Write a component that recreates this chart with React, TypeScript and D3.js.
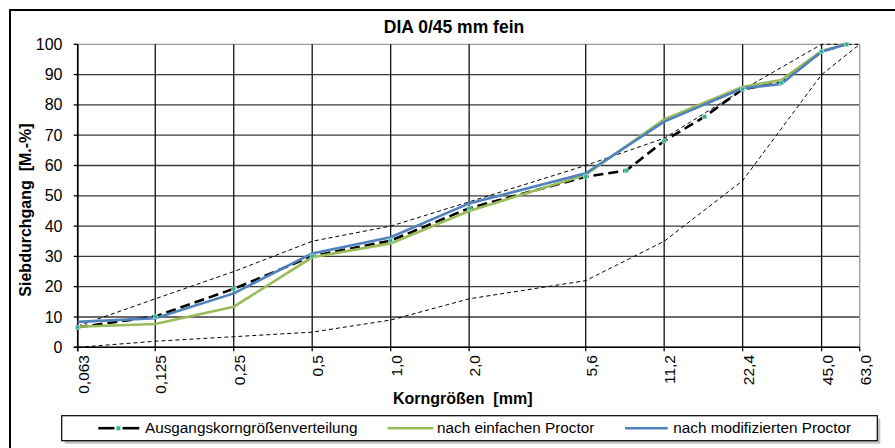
import React from "react";
import * as d3 from "d3";

// Sieve sizes shown on the axis [mm] and their labels
const sieveTicks = [0.063, 0.125, 0.25, 0.5, 1, 2, 5.6, 11.2, 22.4, 45, 63];
const sieveLabels = ["0,063", "0,125", "0,25", "0,5", "1,0", "2,0", "5,6", "11,2", "22,4", "45,0", "63,0"];
const yTicks = [0, 10, 20, 30, 40, 50, 60, 70, 80, 90, 100];

// Grading envelope (lower and upper limit) at the axis sieves
const upperLimit = [7, 16, 25, 35, 40, 48, 60, 69, 85, 100, 100];
const lowerLimit = [0, 2, 3.5, 5, 9, 16, 22, 35, 55, 90, 100];

// Initial grading
const initialSieves = [0.063, 0.125, 0.25, 0.5, 1, 2, 5.6, 8, 11.2, 16, 22.4, 31.5, 45, 56];
const initialPassing = [6.6, 10.2, 19.3, 30.1, 35.2, 45.9, 56.3, 58.3, 68.1, 76.1, 85.2, 87.3, 97.6, 100];

// Grading after standard / modified Proctor compaction
const proctorSieves = [0.063, 0.125, 0.25, 0.5, 1, 2, 5.6, 11.2, 22.4, 31.5, 45, 56];
const standardProctor = [6.8, 7.7, 13.4, 29.7, 34.3, 45.0, 56.9, 75.2, 86.0, 88.2, 97.8, 100];
const modifiedProctor = [8.4, 9.6, 17.8, 31.0, 36.3, 47.5, 57.4, 74.5, 85.5, 86.9, 97.6, 100];

const W = 895;
const H = 448;
const FONT = "Liberation Sans, Arial, sans-serif";

export default function App() {
  const x = d3.scaleLog().domain([0.063, 63]).range([77.7, 859.7]);
  const y = d3.scaleLinear().domain([0, 100]).range([347.3, 44.3]);

  const line = (xs: number[], ys: number[]) =>
    d3
      .line<number>()
      .x((_, i) => x(xs[i]))
      .y((d) => y(d))(ys) as string;

  const left = x.range()[0];
  const right = x.range()[1];
  const top = y(100);
  const bottom = y(0);

  const markerColor = "#2fae8f";

  return (
    <svg
      width={W}
      height={H}
      style={{ position: "absolute", left: 0, top: 0, background: "#fff" }}
      fontFamily={FONT}
    >
      <rect x={0} y={0} width={W} height={H} fill="#fff" />
      {/* outer chart frame */}
      <rect x={10} y={10} width={900} height={460} fill="none" stroke="#000" strokeWidth={2} />

      <text x={454} y={33} textAnchor="middle" fontSize={17.5} fontWeight="bold">
        DIA 0/45 mm fein
      </text>

      {/* horizontal gridlines */}
      {yTicks.map((t) => (
        <line
          key={"h" + t}
          x1={left}
          x2={right}
          y1={y(t)}
          y2={y(t)}
          stroke={t === 100 ? "#999" : "#3a3a3a"}
          strokeWidth={1.3}
        />
      ))}
      {/* vertical gridlines */}
      {sieveTicks.map((t, i) => (
        <line
          key={"v" + t}
          x1={x(t)}
          x2={x(t)}
          y1={top}
          y2={bottom}
          stroke={i === sieveTicks.length - 1 ? "#999" : "#111"}
          strokeWidth={1.3}
        />
      ))}
      {/* axes */}
      <line x1={left} x2={left} y1={top} y2={bottom + 4} stroke="#000" strokeWidth={1.6} />
      <line x1={left - 4} x2={right} y1={bottom} y2={bottom} stroke="#000" strokeWidth={1.6} />
      {yTicks.map((t) => (
        <line key={"yt" + t} x1={left - 4} x2={left} y1={y(t)} y2={y(t)} stroke="#000" strokeWidth={1.3} />
      ))}
      {sieveTicks.map((t) => (
        <line key={"xt" + t} x1={x(t)} x2={x(t)} y1={bottom} y2={bottom + 4} stroke="#000" strokeWidth={1.3} />
      ))}

      {/* y tick labels */}
      {yTicks.map((t) => (
        <text key={"yl" + t} x={62.5} y={y(t) + 5.5} textAnchor="end" fontSize={16}>
          {t}
        </text>
      ))}
      {/* x tick labels */}
      {sieveTicks.map((t, i) => (
        <text
          key={"xl" + t}
          transform={`translate(${x(t) + 11},${355}) rotate(-90)`}
          textAnchor="end"
          fontSize={15.5}
        >
          {sieveLabels[i]}
        </text>
      ))}

      {/* axis titles */}
      <text transform="translate(31,210) rotate(-90)" textAnchor="middle" fontSize={16} fontWeight="bold">
        {"Siebdurchgang\u00a0 [M.-%]"}
      </text>
      <text x={462.7} y={404.3} textAnchor="middle" fontSize={16} fontWeight="bold">
        {"Korngrößen\u00a0 [mm]"}
      </text>

      {/* grading envelope */}
      <path d={line(sieveTicks, upperLimit)} fill="none" stroke="#000" strokeWidth={1} strokeDasharray="4,3" />
      <path d={line(sieveTicks, lowerLimit)} fill="none" stroke="#000" strokeWidth={1} strokeDasharray="4,3" />

      {/* measured gradings */}
      <path
        d={line(initialSieves, initialPassing)}
        fill="none"
        stroke="#000"
        strokeWidth={2.6}
        strokeDasharray="10,5"
      />
      <path d={line(proctorSieves, standardProctor)} fill="none" stroke="#9bbb59" strokeWidth={2.6} />
      <path d={line(proctorSieves, modifiedProctor)} fill="none" stroke="#4f81bd" strokeWidth={2.6} />
      {initialSieves.map((s, i) => (
        <rect
          key={"m" + s}
          x={x(s) - 2}
          y={y(initialPassing[i]) - 2}
          width={4}
          height={4}
          fill={markerColor}
          stroke="#a6e0d4"
          strokeWidth={0.8}
        />
      ))}

      {/* legend */}
      <rect x={64.7} y={418.7} width={815.6} height={25} fill="#9a9a9a" opacity={0.6} />
      <rect x={61.7} y={415.7} width={815.6} height={25} fill="#fff" stroke="#000" strokeWidth={1.2} />
      <line x1={98.3} x2={114.5} y1={428.2} y2={428.2} stroke="#000" strokeWidth={2.6} />
      <line x1={122.5} x2={139.3} y1={428.2} y2={428.2} stroke="#000" strokeWidth={2.6} />
      <rect x={116.3} y={426.2} width={4} height={4} fill={markerColor} stroke="#a6e0d4" strokeWidth={0.8} />
      <text x={145} y={433.3} fontSize={15.3}>Ausgangskorngrößenverteilung</text>
      <line x1={387.7} x2={433.3} y1={428.2} y2={428.2} stroke="#9bbb59" strokeWidth={2.6} />
      <text x={437} y={433.3} fontSize={15.3}>nach einfachen Proctor</text>
      <line x1={625} x2={667.7} y1={428.2} y2={428.2} stroke="#4f81bd" strokeWidth={2.6} />
      <text x={673.3} y={433.3} fontSize={15.3}>nach modifizierten Proctor</text>
    </svg>
  );
}
